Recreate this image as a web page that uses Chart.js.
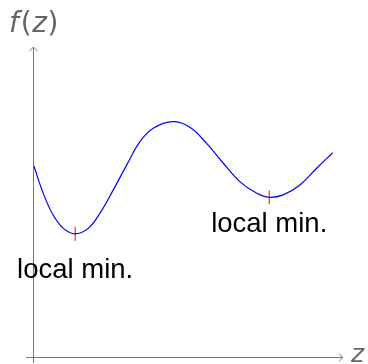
<!DOCTYPE html>
<html>
<head>
<meta charset="utf-8">
<script src="https://cdn.jsdelivr.net/npm/chart.js@4"></script>
<style>
    body { margin: 0; background: #fff; }
    #wrap { width: 368px; height: 364px; position: relative; }
</style>
</head>
<body>
<div id="wrap"><canvas id="plot"></canvas></div>
<script>
// curve
const curve_x = [0.03, 0.33, 0.65, 0.98, 1.36, 1.78, 2.16, 2.59, 3.02, 3.45, 3.88, 4.51,
                 5.06, 5.60, 6.14, 6.68, 7.22, 7.62, 8.07, 8.61, 9.15, 9.67];
const curve_y = [6.16, 5.28, 4.58, 4.15, 3.97, 4.15, 4.64, 5.39, 6.19, 6.95, 7.38, 7.59,
                 7.41, 6.89, 6.25, 5.65, 5.28, 5.15, 5.23, 5.55, 6.09, 6.59];

// local minima
const min_x = [1.36, 7.62];
const min_y = [3.97, 5.15];
const min_labels = ["local min.", "local min."];

const axis_labels = { x: "z", y: "f(z)" };
const axis_max = 10;

let points = curve_x.map((x, i) => ({ x: x, y: curve_y[i] }));
let min_points = min_x.map((x, i) => ({ x: x, y: min_y[i] }));

// draw the axes with arrow heads and the text
const axes_plugin = {
    id: "axes_plugin",
    beforeDatasetsDraw(chart) {
        const ctx = chart.ctx;
        const xs = chart.scales.x;
        const ys = chart.scales.y;
        const x0 = Math.round(xs.getPixelForValue(0));
        const y0 = Math.round(ys.getPixelForValue(0));
        const xEnd = xs.getPixelForValue(axis_max);
        const yEnd = ys.getPixelForValue(axis_max);
        ctx.save();
        ctx.strokeStyle = "#777";
        ctx.lineWidth = 1;
        ctx.beginPath();
        ctx.moveTo(x0 - 7, y0 + 0.5);
        ctx.lineTo(xEnd, y0 + 0.5);
        ctx.moveTo(x0 + 0.5, y0 + 6);
        ctx.lineTo(x0 + 0.5, yEnd);
        ctx.stroke();
        // arrow heads
        ctx.beginPath();
        ctx.moveTo(xEnd - 4, y0 - 3.5);
        ctx.quadraticCurveTo(xEnd - 1, y0, xEnd, y0 + 0.5);
        ctx.quadraticCurveTo(xEnd - 1, y0 + 1, xEnd - 4, y0 + 4.5);
        ctx.moveTo(x0 - 3.5, yEnd + 4);
        ctx.quadraticCurveTo(x0, yEnd + 1, x0 + 0.5, yEnd);
        ctx.quadraticCurveTo(x0 + 1, yEnd + 1, x0 + 4.5, yEnd + 4);
        ctx.stroke();
        // axis labels
        ctx.fillStyle = "#666";
        ctx.textAlign = "left";
        ctx.textBaseline = "alphabetic";
        ctx.font = "italic 25px 'DejaVu Sans'";
        ctx.fillText(axis_labels.x, xEnd + 8, y0 + 5);
        // f(z): italic letters, upright brackets
        let parts = [["f", true], ["(", false], ["z", true], [")", false]];
        let px = 9;
        parts.forEach(p => {
            ctx.font = (p[1] ? "italic " : "") + "28px 'DejaVu Sans'";
            ctx.fillText(p[0], px, 32);
            px += ctx.measureText(p[0]).width + (p[0] === "f" ? 2 : 0.5);
        });
        ctx.restore();
    },
    afterDatasetsDraw(chart) {
        const ctx = chart.ctx;
        const xs = chart.scales.x;
        const ys = chart.scales.y;
        const offsets = [44, 35];
        ctx.save();
        ctx.fillStyle = "#000";
        ctx.font = "27.5px 'Liberation Sans'";
        ctx.textAlign = "center";
        ctx.textBaseline = "alphabetic";
        for (let i = 0; i < min_labels.length; i++) {
            let px = xs.getPixelForValue(min_x[i]);
            let py = ys.getPixelForValue(min_y[i]);
            ctx.fillText(min_labels[i], px, py + offsets[i]);
        }
        ctx.restore();
    }
};

let plot_ctx = document.getElementById("plot").getContext("2d");
let plot_chart = new Chart(plot_ctx, {
    type: "line",
    data: {
        datasets: [{
            data: points,
            borderColor: "#0000ff",
            borderWidth: 1.2,
            pointRadius: 0,
            tension: 0.4,
            fill: false
        }, {
            data: min_points,
            showLine: false,
            pointStyle: "line",
            rotation: 90,
            pointRadius: 7,
            pointBorderColor: "#ff0000",
            pointBorderWidth: 1,
            borderColor: "#ff0000"
        }]
    },
    options: {
        responsive: true,
        maintainAspectRatio: false,
        animation: false,
        events: [],
        layout: { padding: 0, autoPadding: false },
        plugins: {
            legend: { display: false },
            tooltip: { enabled: false }
        },
        scales: {
            x: { type: "linear", display: false, min: -33 / 31, max: 335 / 31 },
            y: { type: "linear", display: false, min: -7 / 31, max: 357 / 31 }
        }
    },
    plugins: [axes_plugin]
});
</script>
</body>
</html>
